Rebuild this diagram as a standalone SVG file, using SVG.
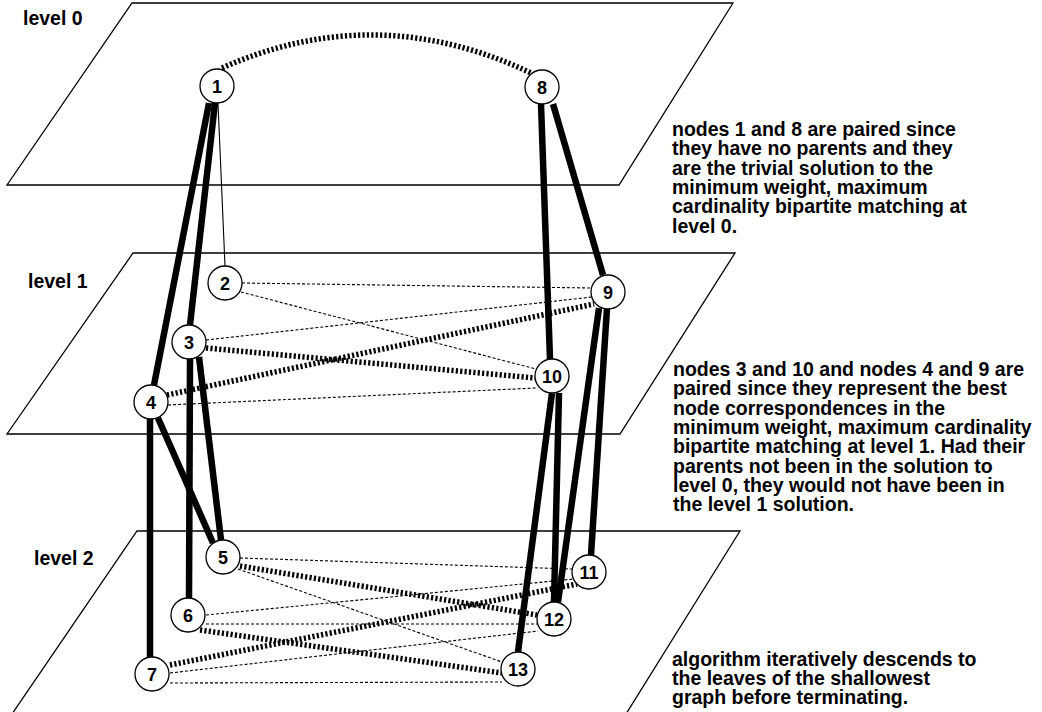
<svg xmlns="http://www.w3.org/2000/svg" width="1042" height="712" viewBox="0 0 1042 712">
<style>
.plane{fill:none;stroke:#000;stroke-width:1.3}
.thick{stroke:#000;stroke-width:6.5;fill:none;stroke-linecap:butt}
.thin{stroke:#000;stroke-width:1.1;fill:none}
.dash{stroke:#000;stroke-width:1.1;fill:none;stroke-dasharray:3 2}
.dot{stroke:#000;stroke-width:5.5;fill:none;stroke-dasharray:2.2 2.2}
.node circle{fill:#fff;stroke:#000;stroke-width:1.3}
.node text{font-family:"Liberation Sans",Arial,sans-serif;font-weight:bold;font-size:18px;text-anchor:middle}
.lbl{font-family:"Liberation Sans",Arial,sans-serif;font-weight:bold;font-size:19.5px}
</style>
<rect width="1042" height="712" fill="#fff"/>
<g id="planes">
<path class="plane" d="M132,3 L733,3 L619,185 L7,185 Z"/>
<path class="plane" d="M133,253 L735,253 L620,434 L7,434 Z"/>
<path class="plane" d="M137,531 L740,531 L626,714 L12,714 Z"/>
</g>
<g id="labels" class="lbl">
<text x="23" y="25">level 0</text>
<text x="28" y="288">level 1</text>
<text x="34" y="565">level 2</text>
<text x="672" y="136">nodes 1 and 8 are paired since</text>
<text x="672" y="155.3">they have no parents and they</text>
<text x="672" y="174.6">are the trivial solution to the</text>
<text x="672" y="193.9">minimum weight, maximum</text>
<text x="672" y="213.2">cardinality bipartite matching at</text>
<text x="672" y="232.5">level 0.</text>
<text x="673" y="376">nodes 3 and 10 and nodes 4 and 9 are</text>
<text x="673" y="395.3">paired since they represent the best</text>
<text x="673" y="414.6">node correspondences in the</text>
<text x="673" y="433.9">minimum weight, maximum cardinality</text>
<text x="673" y="453.2">bipartite matching at level 1. Had their</text>
<text x="673" y="472.5">parents not been in the solution to</text>
<text x="673" y="491.8">level 0, they would not have been in</text>
<text x="673" y="511.1">the level 1 solution.</text>
<text x="672" y="666">algorithm iteratively descends to</text>
<text x="672" y="685">the leaves of the shallowest</text>
<text x="672" y="704">graph before terminating.</text>
</g>
<g id="connectors">
<path class="dot" d="M222,68 Q377,-1 533,74"/>
<line class="thick" x1="209" y1="103" x2="154" y2="385"/>
<line class="thick" x1="215" y1="103" x2="190" y2="325"/>
<line class="thin" x1="218" y1="103" x2="225" y2="266"/>
<line class="thick" x1="541" y1="104" x2="550" y2="359"/>
<line class="thick" x1="553" y1="104" x2="603" y2="275"/>
<line class="dash" x1="242" y1="283" x2="591" y2="288"/>
<line class="dash" x1="241" y1="292" x2="536" y2="369"/>
<line class="dash" x1="206" y1="340" x2="592" y2="297"/>
<line class="dash" x1="168" y1="405" x2="536" y2="388"/>
<line class="dot" x1="206" y1="348" x2="535" y2="378"/>
<line class="dot" x1="167" y1="395" x2="594" y2="304"/>
<line class="thick" x1="190" y1="359" x2="189" y2="598"/>
<line class="thick" x1="199" y1="357" x2="221" y2="540"/>
<line class="thick" x1="158" y1="418" x2="213" y2="543"/>
<line class="thick" x1="150" y1="419" x2="150" y2="657"/>
<line class="thick" x1="552" y1="393" x2="518" y2="652"/>
<line class="thick" x1="559" y1="393" x2="554" y2="602"/>
<line class="thick" x1="599" y1="308" x2="558" y2="602"/>
<line class="thick" x1="607" y1="308" x2="591" y2="555"/>
<line class="dash" x1="240" y1="558" x2="572" y2="569"/>
<line class="dash" x1="238" y1="569" x2="502" y2="662"/>
<line class="dash" x1="206" y1="615" x2="574" y2="579"/>
<line class="dash" x1="206" y1="624" x2="537" y2="624"/>
<line class="dash" x1="170" y1="673" x2="538" y2="631"/>
<line class="dash" x1="170" y1="683" x2="502" y2="682"/>
<line class="dot" x1="240" y1="566" x2="537" y2="615"/>
<line class="dot" x1="200" y1="630" x2="502" y2="673"/>
<line class="dot" x1="170" y1="665" x2="577" y2="584"/>
</g>
<g id="n1" class="node"><circle cx="217" cy="86" r="17"/><text x="217" y="92.5">1</text></g>
<g id="n8" class="node"><circle cx="542" cy="87" r="17"/><text x="542" y="93.5">8</text></g>
<g id="n2" class="node"><circle cx="225" cy="283" r="17"/><text x="225" y="289.5">2</text></g>
<g id="n3" class="node"><circle cx="189" cy="342" r="17"/><text x="189" y="348.5">3</text></g>
<g id="n4" class="node"><circle cx="151" cy="402" r="17"/><text x="151" y="408.5">4</text></g>
<g id="n9" class="node"><circle cx="608" cy="292" r="17"/><text x="608" y="298.5">9</text></g>
<g id="n10" class="node"><circle cx="552" cy="376" r="17"/><text x="552" y="382.5">10</text></g>
<g id="n5" class="node"><circle cx="223" cy="557" r="17"/><text x="223" y="563.5">5</text></g>
<g id="n6" class="node"><circle cx="188" cy="615" r="17"/><text x="188" y="621.5">6</text></g>
<g id="n7" class="node"><circle cx="152" cy="674" r="17"/><text x="152" y="680.5">7</text></g>
<g id="n11" class="node"><circle cx="589" cy="572" r="17"/><text x="589" y="578.5">11</text></g>
<g id="n12" class="node"><circle cx="554" cy="619" r="17"/><text x="554" y="625.5">12</text></g>
<g id="n13" class="node"><circle cx="518" cy="669" r="17"/><text x="518" y="675.5">13</text></g>
</svg>
